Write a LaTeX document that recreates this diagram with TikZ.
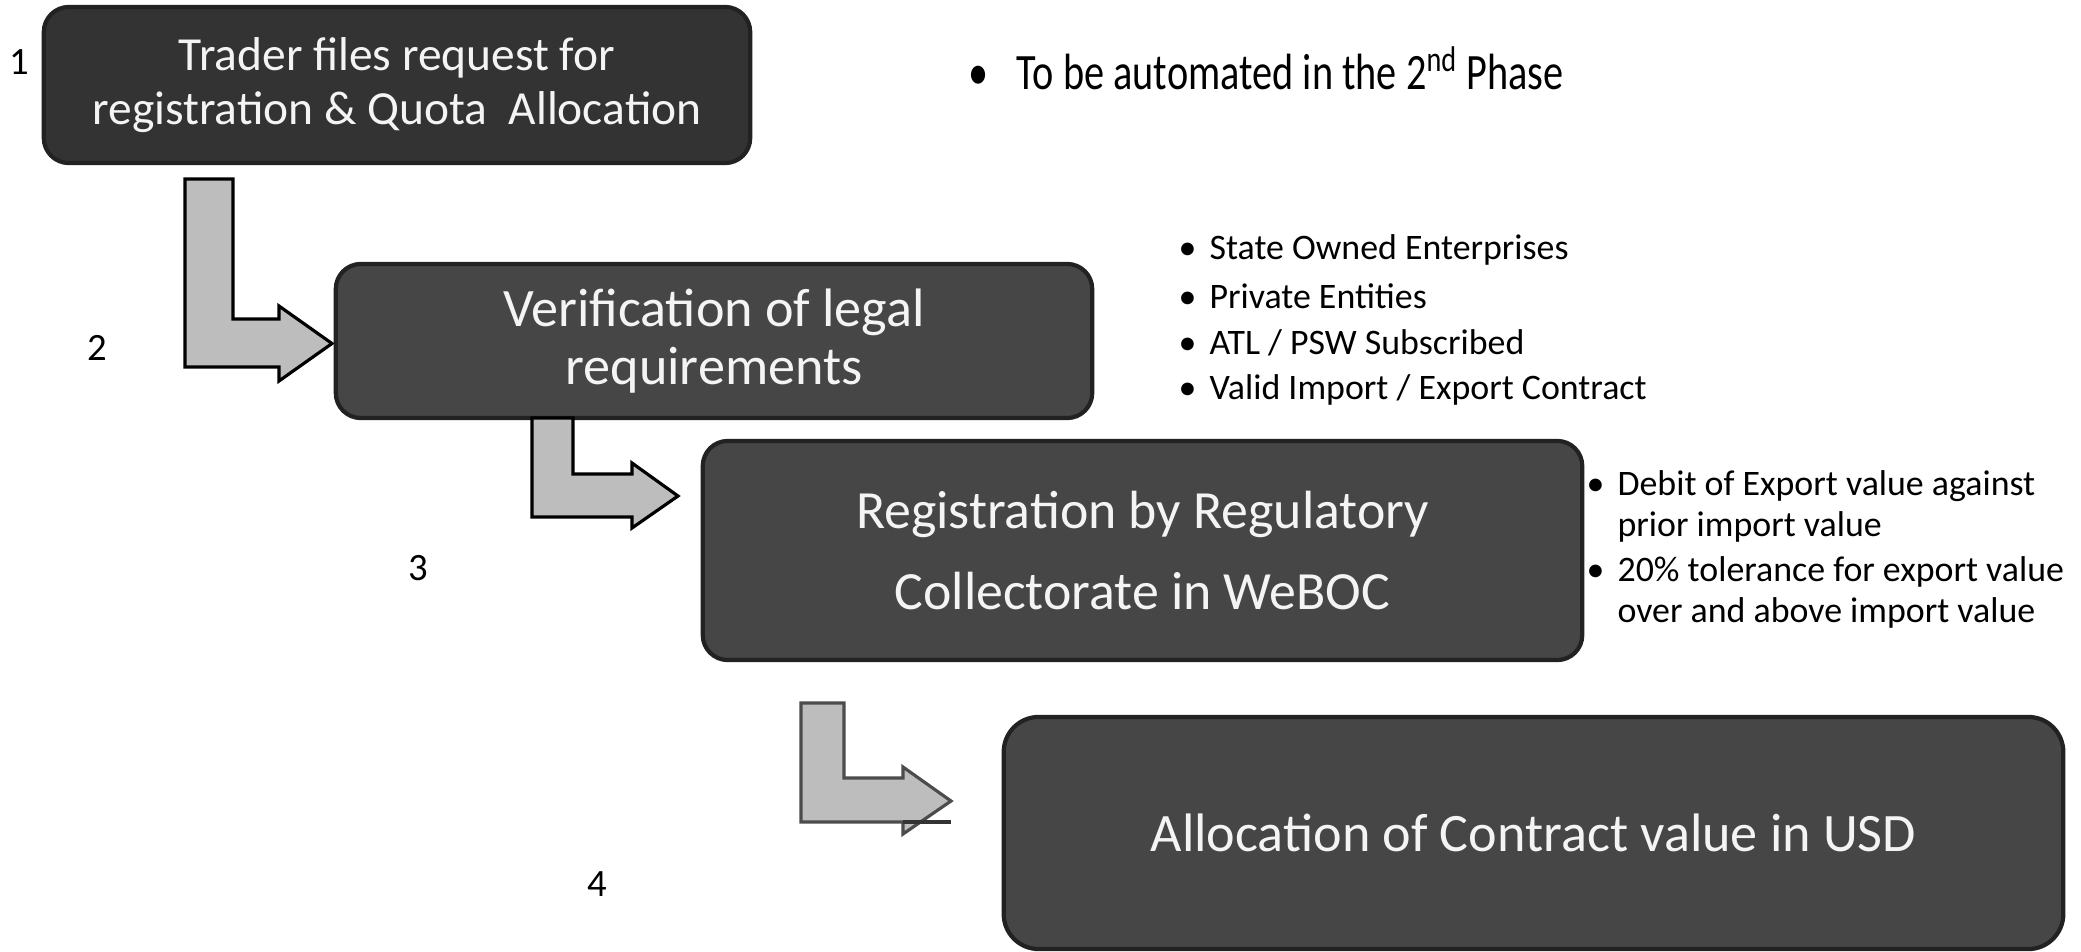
\documentclass[tikz,border=0pt]{standalone}
\usepackage{fontspec}
\setmainfont{Carlito}
\definecolor{boxA}{HTML}{333333}
\definecolor{boxB}{HTML}{464646}
\definecolor{boxedge}{HTML}{222222}
\definecolor{arrowfill}{HTML}{BDBDBD}
\definecolor{boxtext}{HTML}{F4F4F4}
\begin{document}
\begin{tikzpicture}[x=0.01cm,y=-0.01cm,
  stepbox/.style={draw=boxedge, line width=1.2pt, rounded corners=0.25cm, text=boxtext, align=center, inner sep=0pt},
  larrow/.style={fill=arrowfill, draw=black, line width=0.9pt, line join=miter},
  bul/.style={anchor=west, inner sep=0pt, align=left, font=\fontsize{10.2}{13.3}\selectfont},
  num/.style={inner sep=0pt, font=\fontsize{11}{13}\selectfont}
]
\useasboundingbox (0,0) rectangle (2081,951);

% boxes
\node[stepbox, fill=boxA, minimum width=7.06cm, minimum height=1.56cm,
  font=\fontsize{13.5}{15.4}\selectfont] (b1) at (397,85)
  {Trader files request for\\registration \& Quota\ \ Allocation};
\node[stepbox, fill=boxB, minimum width=7.56cm, minimum height=1.54cm,
  font=\fontsize{15.4}{16.5}\selectfont] (b2) at (714,341)
  {Verification of legal\\requirements};
\node[stepbox, fill=boxB, minimum width=8.79cm, minimum height=2.19cm,
  font=\fontsize{15.3}{23}\selectfont] (b3) at (1142.5,550.5)
  {Registration by Regulatory\\Collectorate in WeBOC};
\node[stepbox, fill=boxB, rounded corners=0.35cm, minimum width=10.59cm, minimum height=2.32cm,
  font=\fontsize{15.4}{18}\selectfont] (b4) at (1533.5,833)
  {Allocation of Contract value in USD};

% numbers
\node[num] (n1) at (19,62) {1};
\node[num] (n2) at (97,348) {2};
\node[num] (n3) at (418,568) {3};
\node[num] (n4) at (597,884) {4};

% L-shaped block arrows
\draw[larrow] (185,179) -- (233,179) -- (233,319) -- (279,319) -- (279,306)
  -- (332,343.5) -- (279,381) -- (279,367) -- (185,367) -- cycle;
\draw[larrow] (532,418) -- (573,418) -- (573,474) -- (632,474) -- (632,463)
  -- (678,496) -- (632,528) -- (632,517) -- (532,517) -- cycle;
\draw[larrow, draw=black!70] (801,703) -- (844,703) -- (844,778) -- (903,778) -- (903,767)
  -- (951,801) -- (903,834) -- (903,822) -- (801,822) -- cycle;
\coordinate (a3end) at (951,822);
\draw[black!80, line width=0.9pt] (903,822) -- (a3end);

% top note
\node[anchor=west, inner sep=0pt, font=\fontsize{14.5}{16}\selectfont] (t1) at (968,68)
  {\scalebox{0.79}[1]{\textbullet\hspace{3.55mm}To be automated in the 2\textsuperscript{nd} Phase}};

% bullets for step 2
\node[bul] (s1) at (1178,250) {\textbullet\hspace{1.3mm}State Owned Enterprises};
\node[bul] (s2) at (1178,296) {\textbullet\hspace{1.3mm}Private Entities};
\node[bul] (s3) at (1178,343) {\textbullet\hspace{1.3mm}ATL / PSW Subscribed};
\node[bul] (s4) at (1178,390) {\textbullet\hspace{1.3mm}Valid Import / Export Contract};

% bullets for step 3
\node[bul, font=\fontsize{10.2}{11.6}\selectfont] (r1) at (1586,508)
  {\textbullet\hspace{1.3mm}\begin{tabular}[t]{@{}l@{}}Debit of Export value against\\prior import value\end{tabular}};
\node[bul, font=\fontsize{10.2}{11.6}\selectfont] (r2) at (1586,594)
  {\textbullet\hspace{1.3mm}\begin{tabular}[t]{@{}l@{}}20\% tolerance for export value\\over and above import value\end{tabular}};
\end{tikzpicture}
\end{document}
